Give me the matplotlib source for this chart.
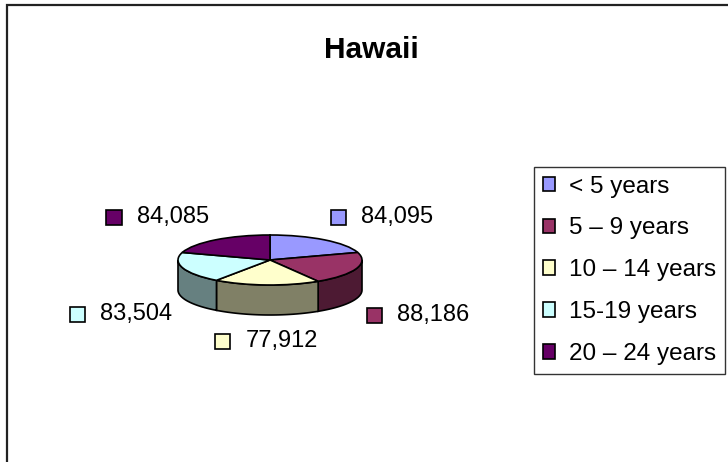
import numpy as np
import matplotlib
matplotlib.use("Agg")
import matplotlib.pyplot as plt
from matplotlib.patches import Rectangle, Polygon
from matplotlib.transforms import Affine2D
from matplotlib.offsetbox import HPacker, DrawingArea, TextArea, AnnotationBbox
import matplotlib.colors as mcolors

plt.rcParams['font.family'] = ['Liberation Sans', 'DejaVu Sans']

# ---- data ----
title = "Hawaii"
categories = ["< 5 years", "5 – 9 years", "10 – 14 years", "15-19 years", "20 – 24 years"]
values = [84095, 88186, 77912, 83504, 84085]
colors = ["#9999FF", "#993366", "#FFFFCC", "#CCFFFF", "#660066"]

# ---- layout constants (pixels) ----
W, H, DPI = 728, 462, 100
cx_px, cy_px = 270, 260     # pie centre
r_px = 92                   # horizontal radius
k = 25 / 92                 # vertical squash of the top ellipse
depth = 30 / 92             # thickness of the pie
lab_rx, lab_ry = 103 / 92, 40 / 92

fig = plt.figure(figsize=(W / DPI, H / DPI), dpi=DPI)
ax = fig.add_axes([0, 0, 1, 1])

wedges, _ = ax.pie(values, colors=colors, startangle=90, counterclock=False,
                   radius=1, center=(0, 0),
                   wedgeprops=dict(edgecolor="black", linewidth=1.2))
squash = Affine2D().scale(1, k) + ax.transData
for w in wedges:
    w.set_transform(squash)
    w.set_zorder(3)

# side walls (front half only)
for w, c in zip(wedges, colors):
    t1 = w.theta1 % 360
    t2 = t1 + (w.theta2 - w.theta1)
    side = tuple(0.5 * np.array(mcolors.to_rgb(c)))
    for lo, hi in [(180, 360), (540, 720)]:
        a, b = max(t1, lo), min(t2, hi)
        if b > a:
            t = np.radians(np.linspace(a, b, 60))
            xs = np.cos(t)
            ys = k * np.sin(t)
            pts = np.concatenate([np.column_stack([xs, ys]),
                                  np.column_stack([xs[::-1], ys[::-1] - depth])])
            ax.add_patch(Polygon(pts, closed=True, facecolor=side,
                                 edgecolor="black", linewidth=1.2, zorder=2))

# data labels
for w, v, c in zip(wedges, values, colors):
    mid = np.radians((w.theta1 + w.theta2) / 2)
    cs, sn = np.cos(mid), np.sin(mid)
    x = lab_rx * cs
    y = lab_ry * sn - (depth if sn < 0 else 0)
    ha = 0.5 if abs(cs) < 0.3 else (0 if cs > 0 else 1)
    va = 0 if sn > 0 else 1
    da = DrawingArea(12, 12, 0, 0)
    da.add_artist(Rectangle((0, 0), 11, 11, facecolor=c, edgecolor="black", linewidth=1.2))
    ta = TextArea(f"{v:,}", textprops=dict(fontsize=17, color="black"))
    box = HPacker(children=[da, ta], align="center", pad=0, sep=10)
    ab = AnnotationBbox(box, (x, y), xycoords="data", box_alignment=(ha, va),
                        frameon=False, pad=0)
    ax.add_artist(ab)

# axes limits so that 1 data unit = r_px pixels in both directions
ax.set_xlim(-cx_px / r_px, (W - cx_px) / r_px)
ax.set_ylim(-(H - cy_px) / r_px, cy_px / r_px)
ax.set_aspect("equal")
ax.set_axis_off()

# title
fig.text(371 / W, 1 - 58 / H, title, ha="center", va="baseline",
         fontsize=21.5, fontweight="bold")

# legend
leg = fig.legend(wedges, categories, loc="upper left",
                 bbox_to_anchor=(534 / W, 1 - 167 / H), borderaxespad=0,
                 fontsize=17.5, frameon=True, fancybox=False, shadow=False,
                 handlelength=0.5, handleheight=0.55, handletextpad=0.6,
                 labelspacing=0.82, borderpad=0.35)
leg.get_frame().set_edgecolor("black")
leg.get_frame().set_linewidth(1.0)

# chart border (left and top visible)
fig.add_artist(Rectangle((6.5 / W, -0.1), 1.2, 1.1 - 4.5 / H, transform=fig.transFigure,
                         fill=False, edgecolor="#222222", linewidth=1.6))

fig.savefig("out.png", dpi=DPI)
